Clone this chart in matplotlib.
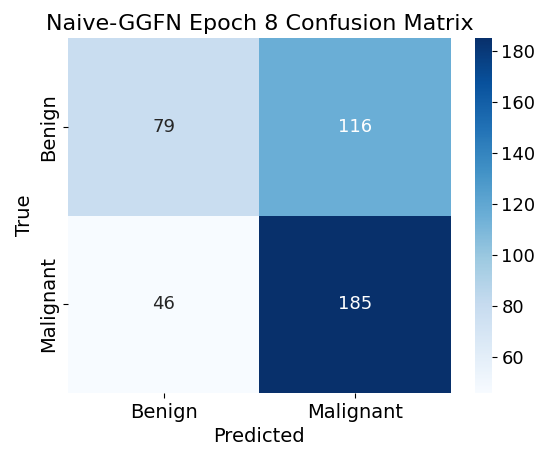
import numpy as np
import matplotlib
matplotlib.use("Agg")
import matplotlib.pyplot as plt
import seaborn as sns

labels = ["Benign", "Malignant"]
cm = np.array([[79, 116],
               [46, 185]])

fig = plt.figure(figsize=(5.5, 4.59), dpi=100)
ax = fig.add_axes([0.1236, 0.144, 0.696, 0.773])
cax = fig.add_axes([0.8636, 0.144, 0.0303, 0.773])

sns.heatmap(cm, annot=True, fmt="d", cmap="Blues", ax=ax, cbar_ax=cax,
            xticklabels=labels, yticklabels=labels,
            annot_kws={"fontsize": 13})
ax.set_title("Naive-GGFN Epoch 8 Confusion Matrix", fontsize=16)
ax.set_xlabel("Predicted", fontsize=14)
ax.set_ylabel("True", fontsize=14)
ax.tick_params(labelsize=14)
cax.tick_params(labelsize=13)

fig.savefig("out.png", dpi=100)
